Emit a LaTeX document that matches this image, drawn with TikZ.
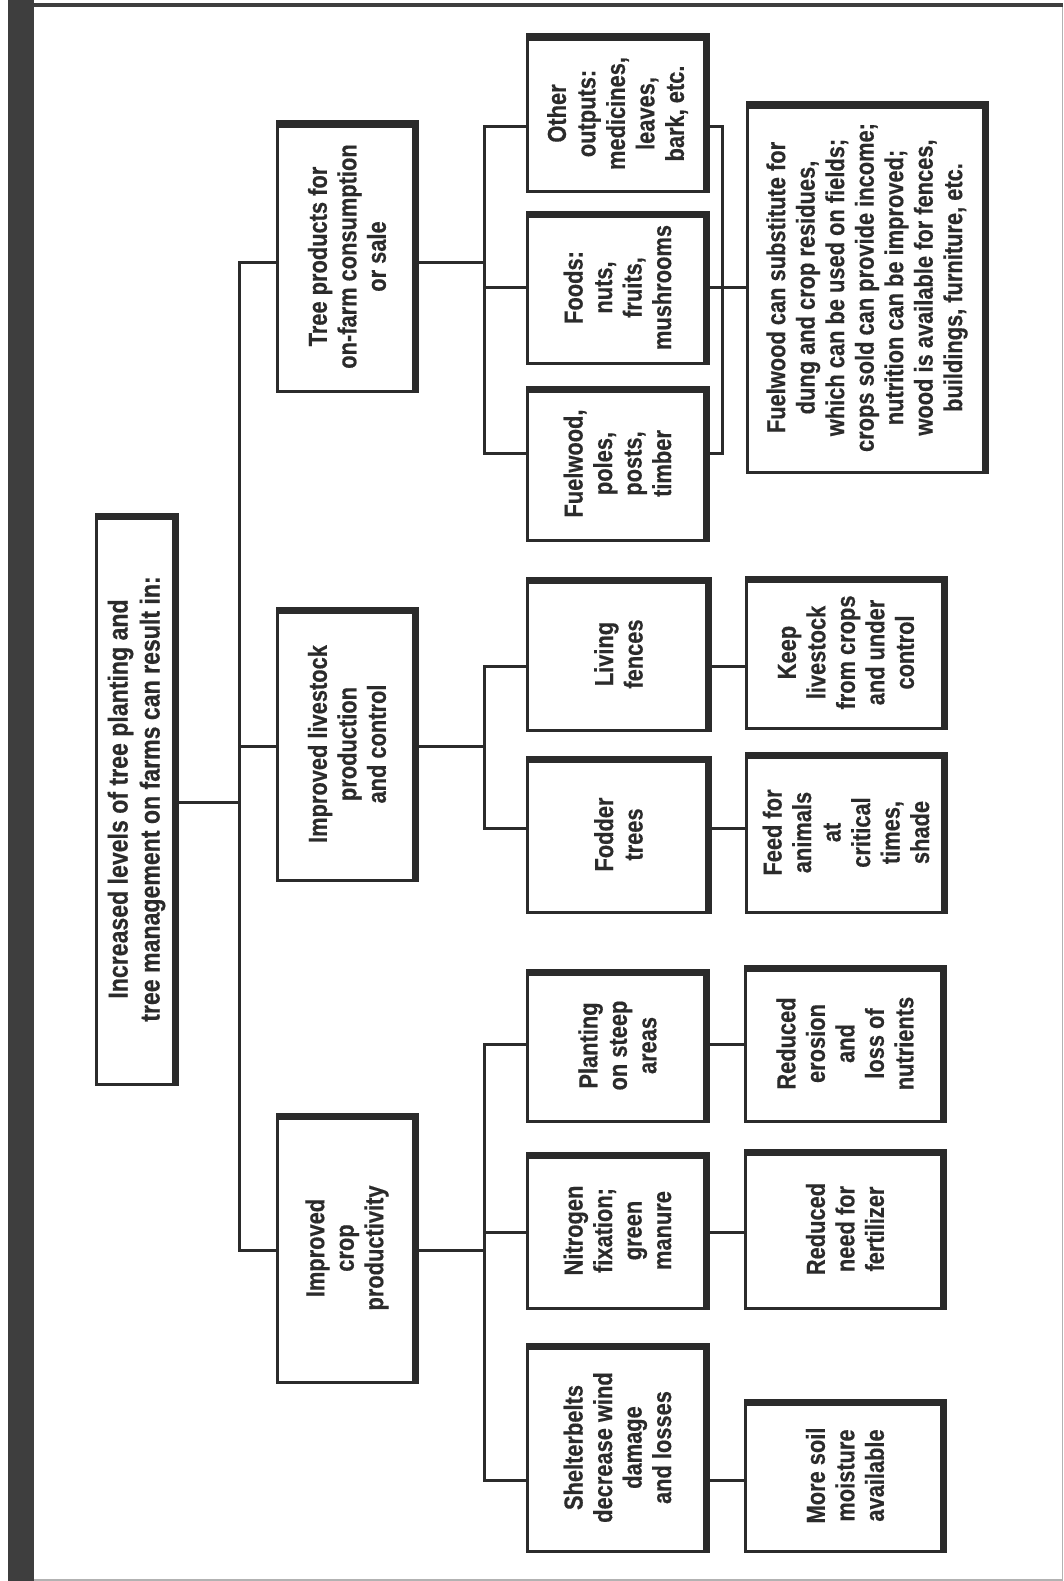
\documentclass[tikz,border=0pt]{standalone}
\usepackage{fontspec}
\setmainfont{Liberation Sans}[FakeStretch=0.84,FakeBold=0.5]
\definecolor{ink}{HTML}{2B2B2B}
\definecolor{barc}{HTML}{3E3E3E}
\tikzset{
  box/.style={draw=ink, line width=3pt, rectangle, inner sep=0pt, outer sep=0pt, fill=white},
  txt/.style={align=center, inner sep=0pt, text=ink, font=\bfseries\fontsize{26}{29.5}\selectfont},
  rtxt/.style={txt, font=\bfseries\fontsize{27.5}{32}\selectfont},
  conn/.style={draw=ink, line width=3pt, line cap=rect},
}
\newcommand{\tbox}[7][txt]{%
  \node[box, minimum width={#5-#3}, minimum height={#6-#4}] (#2) at ({(#3+#5)/2},{(#4+#6)/2}) {};
  \fill[ink] ([shift={(-1.5,-1.5)}]#2.north west) rectangle ([shift={(1.5,6)}]#2.north east);
  \fill[ink] ([shift={(-5,-1.5)}]#2.north east) rectangle ([shift={(1.5,1.5)}]#2.south east);
  \node[#1, rotate=90] (#2t) at (#2.center) {#7};
}
\begin{document}
\begin{tikzpicture}[x=1pt,y=-1pt]
\fill[white] (0,0) rectangle (1063,1581);
\useasboundingbox (0,0) rectangle (1063,1581);
% frame
\fill[barc] (8,0) rectangle (34,1581);
\fill[barc] (34,3.5) rectangle (1063,7.5);
\draw[gray!60, line width=1pt] (1062,7) -- (1062,1581);
\draw[gray!60, line width=1.5pt] (34,1580) -- (1063,1580);

% root
\tbox[rtxt]{root}{96}{514}{177}{1084}{Increased levels of tree planting and\\tree management on farms can result in:}

% level 1
\tbox{tp}{277}{122}{417}{391}{Tree products for\\on-farm consumption\\or sale}
\tbox{lv}{277}{608}{417}{880}{Improved livestock\\production\\and control}
\tbox{cp}{277}{1114}{417}{1382}{Improved\\crop\\productivity}

% level 2 tree products
\tbox{oo}{527}{35}{708}{192}{Other\\outputs:\\medicines,\\leaves,\\bark, etc.}
\tbox{fo}{527}{212}{708}{363}{Foods:\\nuts,\\fruits,\\mushrooms}
\tbox{fw}{527}{387}{708}{540}{Fuelwood,\\poles,\\posts,\\timber}
\tbox{big}{747}{103}{987}{472}{Fuelwood can substitute for\\dung and crop residues,\\which can be used on fields;\\crops sold can provide income;\\nutrition can be improved;\\wood is available for fences,\\buildings, furniture, etc.}

% livestock
\tbox{lf}{527}{578}{710}{730}{Living\\fences}
\tbox{ft}{527}{757}{710}{912}{Fodder\\trees}
\tbox{kl}{746}{577}{946}{728}{Keep\\livestock\\from crops\\and under\\control}
\tbox{fa}{746}{753}{946}{912}{Feed for\\animals\\at\\critical\\times,\\shade}

% crop
\tbox{pl}{527}{970}{708}{1121}{Planting\\on steep\\areas}
\tbox{ni}{527}{1153}{708}{1308}{Nitrogen\\fixation;\\green\\manure}
\tbox{sh}{527}{1344}{708}{1551}{Shelterbelts\\decrease wind\\damage\\and losses}
\tbox{re}{745}{966}{945}{1121}{Reduced\\erosion\\and\\loss of\\nutrients}
\tbox{rn}{745}{1150}{945}{1308}{Reduced\\need for\\fertilizer}
\tbox{ms}{745}{1400}{945}{1551}{More soil\\moisture\\available}

% bus coordinates
\coordinate (trA) at (239,262);
\coordinate (trB) at (239,1250);
\coordinate (trR) at (239,802);
\coordinate (trM) at (239,746);
\coordinate (b1A) at (484,127);
\coordinate (b1B) at (484,453);
\coordinate (j1) at (484,262);
\coordinate (j2) at (484,287);
\coordinate (b2A) at (484,666);
\coordinate (b2B) at (484,828);
\coordinate (j3) at (484,746);
\coordinate (b3A) at (484,1044);
\coordinate (b3B) at (484,1480);
\coordinate (j4) at (484,1250);
\coordinate (j5) at (484,1232);
\coordinate (brA) at (722,127);
\coordinate (brB) at (722,453);

% trunk
\draw[conn] (trA) -- (trB);
\draw[conn] (root.east |- trR) -- (trR);
\draw[conn] (trA) -- (tp.west |- trA);
\draw[conn] (trM) -- (lv.west |- trM);
\draw[conn] (trB) -- (cp.west |- trB);

% tree products group
\draw[conn] (b1A) -- (b1B);
\draw[conn] (tp.east |- j1) -- (j1);
\draw[conn] (b1A) -- (oo.west |- b1A);
\draw[conn] (j2) -- (fo.west |- j2);
\draw[conn] (b1B) -- (fw.west |- b1B);
\draw[conn] (oo.east |- brA) -- (brA) -- (brB) -- (fw.east |- brB);
\draw[conn] (fo.east |- j2) -- (big.west |- j2);

% livestock group
\draw[conn] (b2A) -- (b2B);
\draw[conn] (lv.east |- j3) -- (j3);
\draw[conn] (b2A) -- (lf.west |- b2A);
\draw[conn] (b2B) -- (ft.west |- b2B);
\draw[conn] (lf.east |- b2A) -- (kl.west |- b2A);
\draw[conn] (ft.east |- b2B) -- (fa.west |- b2B);

% crop group
\draw[conn] (b3A) -- (b3B);
\draw[conn] (cp.east |- j4) -- (j4);
\draw[conn] (b3A) -- (pl.west |- b3A);
\draw[conn] (j5) -- (ni.west |- j5);
\draw[conn] (b3B) -- (sh.west |- b3B);
\draw[conn] (pl.east |- b3A) -- (re.west |- b3A);
\draw[conn] (ni.east |- j5) -- (rn.west |- j5);
\draw[conn] (sh.east |- b3B) -- (ms.west |- b3B);
\end{tikzpicture}
\end{document}
